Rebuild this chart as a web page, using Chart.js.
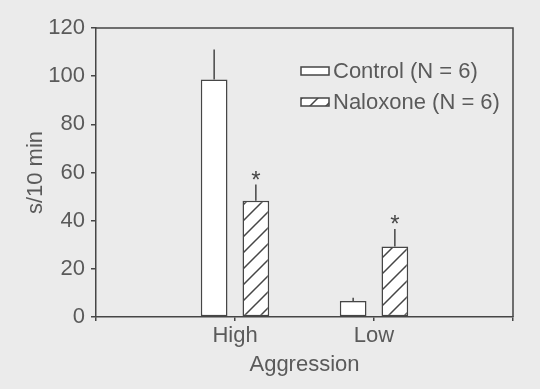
<!DOCTYPE html>
<html>
<head>
<meta charset="utf-8">
<script src="https://cdn.jsdelivr.net/npm/chart.js@4.4.0/dist/chart.umd.min.js"></script>
<style>
  html, body { margin: 0; padding: 0; background: #ebebeb; }
  canvas { display: block; }
</style>
</head>
<body>
<canvas id="aggressionChart" width="540" height="389"></canvas>
<script>
// values (s/10 min), mean and upper error
const categories = ['High', 'Low'];
const controlValues = [98.6, 6.6];
const controlErrors = [12.5, 1.4];
const naloxoneValues = [48.3, 29.3];
const naloxoneErrors = [6.7, 7.2];
const naloxoneStars = [true, true];
const controlStars = [false, false];
const yTicks = [0, 20, 40, 60, 80, 100, 120];
const seriesLabels = ['Control (N = 6)', 'Naloxone (N = 6)'];

const ink = '#464646';
const textColor = '#5a5a5a';
const fontFamily = '"Liberation Sans", Arial, sans-serif';

const canvas = document.getElementById('aggressionChart');
const ctx = canvas.getContext('2d');

// diagonal hatch for the naloxone bars
function makeHatch() {
    const size = 16;
    const tile = document.createElement('canvas');
    tile.width = size;
    tile.height = size;
    const g = tile.getContext('2d');
    g.fillStyle = '#ffffff';
    g.fillRect(0, 0, size, size);
    g.strokeStyle = ink;
    g.lineWidth = 1.5;
    g.beginPath();
    g.moveTo(0, size); g.lineTo(size, 0);
    g.moveTo(-2, 2); g.lineTo(2, -2);
    g.moveTo(size - 2, size + 2); g.lineTo(size + 2, size - 2);
    g.stroke();
    return ctx.createPattern(tile, 'repeat');
}
const hatch = makeHatch();

// empty slots at both ends so the groups sit at 1/3 and 2/3 of the axis
const labels = ['', ...categories, ''];
const pad = arr => [null, ...arr, null];
const errorSets = [pad(controlErrors), pad(naloxoneErrors)];
const starSets = [pad(controlStars), pad(naloxoneStars)];

const errorBars = {
    id: 'errorBars',
    afterDatasetsDraw(chart) {
        const c = chart.ctx;
        const yScale = chart.scales.y;
        c.save();
        c.strokeStyle = ink;
        c.lineWidth = 1.5;
        c.fillStyle = ink;
        c.font = '24px ' + fontFamily;
        c.textAlign = 'center';
        c.textBaseline = 'alphabetic';
        chart.data.datasets.forEach((ds, i) => {
            chart.getDatasetMeta(i).data.forEach((bar, j) => {
                const v = ds.data[j];
                if (v == null) return;
                const top = yScale.getPixelForValue(v + errorSets[i][j]);
                c.beginPath();
                c.moveTo(bar.x, bar.y);
                c.lineTo(bar.x, top);
                c.stroke();
                if (starSets[i][j]) c.fillText('*', bar.x, top + 3);
            });
        });
        c.restore();
    }
};

// top and right sides of the frame plus the boxed legend
const frameAndLegend = {
    id: 'frameAndLegend',
    afterDraw(chart) {
        const c = chart.ctx;
        const area = chart.chartArea;
        c.save();
        c.strokeStyle = ink;
        c.lineWidth = 1.5;
        c.beginPath();
        c.moveTo(area.left, area.top);
        c.lineTo(area.right, area.top);
        c.lineTo(area.right, area.bottom);
        c.stroke();

        c.font = '22px ' + fontFamily;
        c.textBaseline = 'middle';
        c.textAlign = 'left';
        chart.data.datasets.forEach((ds, i) => {
            const x = area.left + 205;
            const y = area.top + 43 + i * 31;
            c.fillStyle = ds.backgroundColor;
            c.fillRect(x, y - 4, 28, 8);
            c.lineWidth = 1.5;
            c.strokeRect(x, y - 4, 28, 8);
            c.fillStyle = textColor;
            c.fillText(ds.label, x + 32, y + 1);
        });
        c.restore();
    }
};

const tickFont = { family: fontFamily, size: 22 };

new Chart(ctx, {
    type: 'bar',
    data: {
        labels: labels,
        datasets: [{
            label: seriesLabels[0],
            data: pad(controlValues),
            backgroundColor: '#ffffff',
            borderColor: ink,
            borderWidth: 1.5,
            borderSkipped: false,
            categoryPercentage: 0.6,
            barPercentage: 0.64
        }, {
            label: seriesLabels[1],
            data: pad(naloxoneValues),
            backgroundColor: hatch,
            borderColor: ink,
            borderWidth: 1.5,
            borderSkipped: false,
            categoryPercentage: 0.6,
            barPercentage: 0.64
        }]
    },
    options: {
        responsive: false,
        animation: false,
        devicePixelRatio: 1,
        layout: {
            padding: { top: 28, right: 27, bottom: 0, left: 0 }
        },
        plugins: {
            legend: { display: false },
            tooltip: { enabled: false }
        },
        scales: {
            x: {
                offset: false,
                grid: {
                    offset: false,
                    drawOnChartArea: false,
                    drawTicks: true,
                    tickLength: 4,
                    color: ink,
                    lineWidth: 1.5
                },
                border: { display: true, color: ink, width: 1.5 },
                ticks: {
                    color: textColor,
                    font: tickFont,
                    padding: 2,
                    maxRotation: 0,
                    autoSkip: false
                },
                title: {
                    display: true,
                    text: 'Aggression',
                    color: textColor,
                    font: tickFont,
                    padding: { top: 0, bottom: 11 }
                },
                afterFit(scale) { scale.height = 72; }
            },
            y: {
                min: 0,
                max: 120,
                afterBuildTicks(scale) {
                    scale.ticks = yTicks.map(v => ({ value: v }));
                },
                grid: {
                    drawOnChartArea: false,
                    tickLength: 5,
                    color: ink,
                    lineWidth: 1.5
                },
                border: { display: true, color: ink, width: 1.5 },
                ticks: {
                    color: textColor,
                    font: tickFont,
                    padding: 6
                },
                title: {
                    display: true,
                    text: 's/10 min',
                    color: textColor,
                    font: tickFont,
                    padding: { top: 23, bottom: 0 }
                },
                afterFit(scale) { scale.width = 96; }
            }
        }
    },
    plugins: [errorBars, frameAndLegend]
});
</script>
</body>
</html>
